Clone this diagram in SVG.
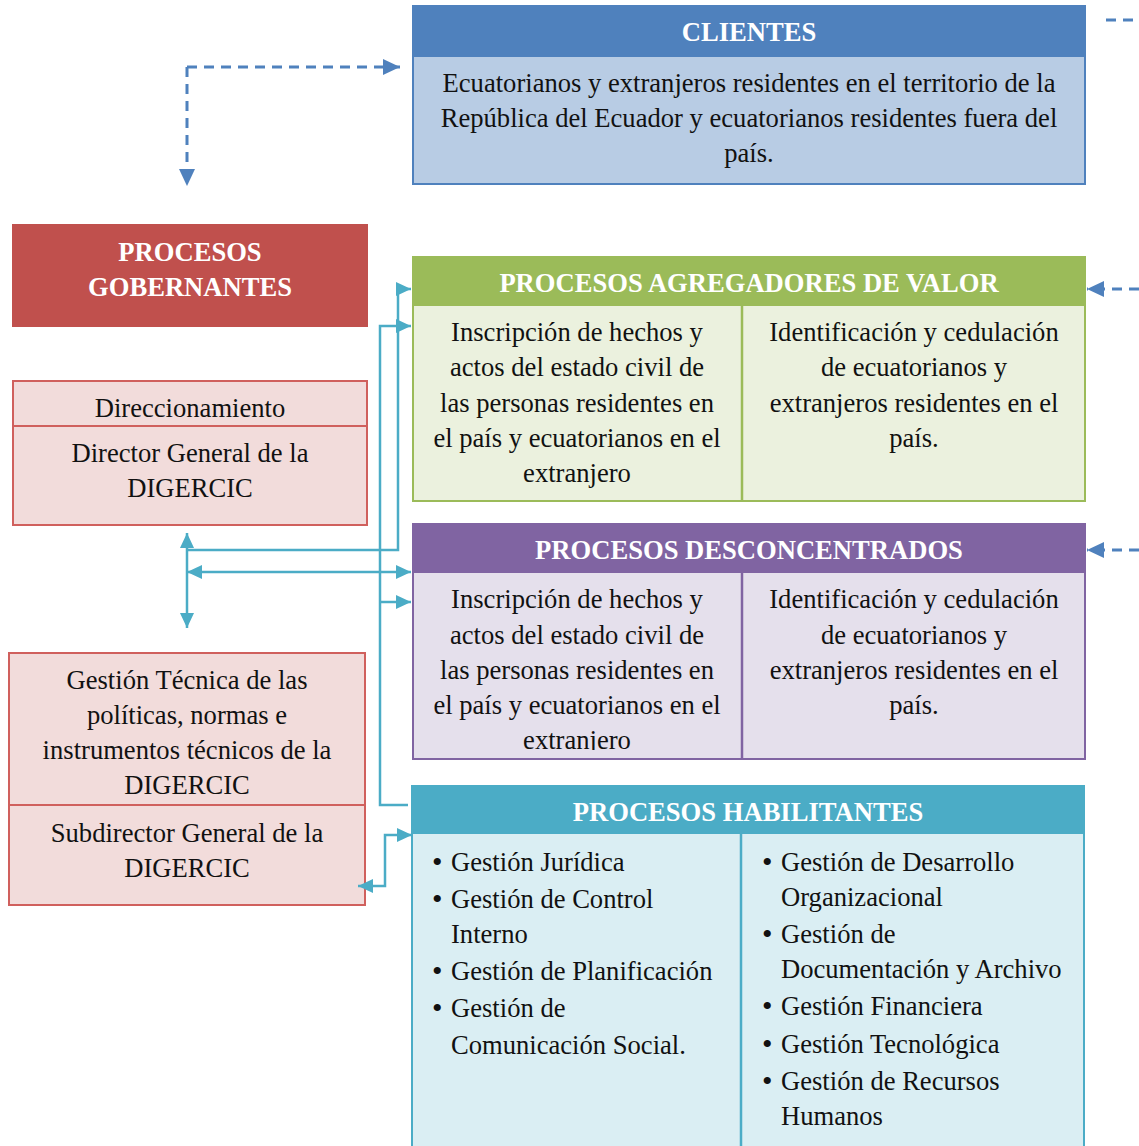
<svg xmlns="http://www.w3.org/2000/svg" width="1139" height="1146" viewBox="0 0 1139 1146">
<defs>
<style>
text{font-family:'Liberation Serif','Times New Roman',Times,'DejaVu Serif',serif;}
.t{font-size:26.6px;fill:#111;}
.b{font-size:30px;fill:#111;}
.c{text-anchor:middle;}
.h{font-size:26.6px;font-weight:bold;fill:#fff;text-anchor:middle;}
.cy{fill:none;stroke:#4bacc6;stroke-width:2.5;}
.bd{fill:none;stroke:#4f81bd;stroke-width:3;stroke-dasharray:10 7;}
</style>
<marker id="ac" markerUnits="userSpaceOnUse" markerWidth="16" markerHeight="16" viewBox="0 0 16 16" refX="15" refY="8" orient="auto-start-reverse"><path d="M0,1 L15,8 L0,15 Z" fill="#4bacc6"/></marker>
<marker id="ab" markerUnits="userSpaceOnUse" markerWidth="18" markerHeight="18" viewBox="0 0 18 18" refX="17" refY="9" orient="auto-start-reverse"><path d="M0,1 L17,9 L0,17 Z" fill="#4f81bd"/></marker>
<clipPath id="cpPurple"><rect x="413" y="573" width="672" height="177"/></clipPath>
</defs>

<g id="clientes">
<rect x="413" y="6" width="672" height="178" fill="#b8cce4" stroke="#4f81bd" stroke-width="2"/>
<rect x="413" y="6" width="672" height="51" fill="#4f81bd"/>
<text class="h" x="749" y="41">CLIENTES</text>
<text class="t c" x="749" y="92">Ecuatorianos y extranjeros residentes en el territorio de la</text>
<text class="t c" x="749" y="127">República del Ecuador y ecuatorianos residentes fuera del</text>
<text class="t c" x="749" y="162">país.</text>
</g>

<g id="gobernantes">
<rect x="12" y="224" width="356" height="103" fill="#c0504d"/>
<text class="h" x="190" y="261">PROCESOS</text>
<text class="h" x="190" y="296">GOBERNANTES</text>
</g>

<g id="direccionamiento">
<rect x="13" y="381" width="354" height="144" fill="#f2dcdb" stroke="#d0605d" stroke-width="2"/>
<line x1="13" y1="426" x2="367" y2="426" stroke="#d0605d" stroke-width="2"/>
<text class="t c" x="190" y="417">Direccionamiento</text>
<text class="t c" x="190" y="462">Director General de la</text>
<text class="t c" x="190" y="497">DIGERCIC</text>
</g>

<g id="gestion-tecnica">
<rect x="9" y="653" width="356" height="252" fill="#f2dcdb" stroke="#d0605d" stroke-width="2"/>
<line x1="9" y1="805" x2="365" y2="805" stroke="#d0605d" stroke-width="2"/>
<text class="t c" x="187" y="689">Gestión Técnica de las</text>
<text class="t c" x="187" y="724">políticas, normas e</text>
<text class="t c" x="187" y="759">instrumentos técnicos de la</text>
<text class="t c" x="187" y="794">DIGERCIC</text>
<text class="t c" x="187" y="842">Subdirector General de la</text>
<text class="t c" x="187" y="877">DIGERCIC</text>
</g>

<g id="agregadores">
<rect x="413" y="257" width="672" height="244" fill="#ebf1de" stroke="#9bbb59" stroke-width="2"/>
<rect x="413" y="257" width="672" height="49" fill="#9bbb59"/>
<line x1="742" y1="306" x2="742" y2="501" stroke="#9bbb59" stroke-width="2.5"/>
<text class="h" x="749" y="292">PROCESOS AGREGADORES DE VALOR</text>
<text class="t c" x="577" y="341">Inscripción de hechos y</text>
<text class="t c" x="577" y="376">actos del estado civil de</text>
<text class="t c" x="577" y="412">las personas residentes en</text>
<text class="t c" x="577" y="447">el país y ecuatorianos en el</text>
<text class="t c" x="577" y="482">extranjero</text>
<text class="t c" x="914" y="341">Identificación y cedulación</text>
<text class="t c" x="914" y="376">de ecuatorianos y</text>
<text class="t c" x="914" y="412">extranjeros residentes en el</text>
<text class="t c" x="914" y="447">país.</text>
</g>

<g id="desconcentrados">
<rect x="413" y="524" width="672" height="235" fill="#e5e0ec" stroke="#8064a2" stroke-width="2"/>
<rect x="413" y="524" width="672" height="49" fill="#8064a2"/>
<line x1="742" y1="573" x2="742" y2="759" stroke="#8064a2" stroke-width="2.5"/>
<text class="h" x="749" y="559">PROCESOS DESCONCENTRADOS</text>
<g clip-path="url(#cpPurple)">
<text class="t c" x="577" y="608">Inscripción de hechos y</text>
<text class="t c" x="577" y="644">actos del estado civil de</text>
<text class="t c" x="577" y="679">las personas residentes en</text>
<text class="t c" x="577" y="714">el país y ecuatorianos en el</text>
<text class="t c" x="577" y="749">extranjero</text>
</g>
<text class="t c" x="914" y="608">Identificación y cedulación</text>
<text class="t c" x="914" y="644">de ecuatorianos y</text>
<text class="t c" x="914" y="679">extranjeros residentes en el</text>
<text class="t c" x="914" y="714">país.</text>
</g>

<g id="habilitantes">
<rect x="412" y="786" width="672" height="370" fill="#daeef3" stroke="#4bacc6" stroke-width="2"/>
<rect x="412" y="786" width="672" height="48" fill="#4bacc6"/>
<line x1="741" y1="834" x2="741" y2="1146" stroke="#4bacc6" stroke-width="2.5"/>
<text class="h" x="748" y="821">PROCESOS HABILITANTES</text>
<text class="b" x="432" y="872">•</text><text class="t" x="451" y="871">Gestión Jurídica</text>
<text class="b" x="432" y="909">•</text><text class="t" x="451" y="908">Gestión de Control</text>
<text class="t" x="451" y="943">Interno</text>
<text class="b" x="432" y="981">•</text><text class="t" x="451" y="980">Gestión de Planificación</text>
<text class="b" x="432" y="1018">•</text><text class="t" x="451" y="1017">Gestión de</text>
<text class="t" x="451" y="1054">Comunicación Social.</text>
<text class="b" x="762" y="872">•</text><text class="t" x="781" y="871">Gestión de Desarrollo</text>
<text class="t" x="781" y="906">Organizacional</text>
<text class="b" x="762" y="944">•</text><text class="t" x="781" y="943">Gestión de</text>
<text class="t" x="781" y="978">Documentación y Archivo</text>
<text class="b" x="762" y="1016">•</text><text class="t" x="781" y="1015">Gestión Financiera</text>
<text class="b" x="762" y="1054">•</text><text class="t" x="781" y="1053">Gestión Tecnológica</text>
<text class="b" x="762" y="1091">•</text><text class="t" x="781" y="1090">Gestión de Recursos</text>
<text class="t" x="781" y="1125">Humanos</text>
</g>

<g id="connectors">
<path class="bd" d="M187,67 H400" marker-end="url(#ab)"/>
<path class="bd" d="M187,67 V186" marker-end="url(#ab)"/>
<path class="bd" d="M1106,20 H1139"/>
<path class="bd" d="M1139,289 H1087" marker-end="url(#ab)"/>
<path class="bd" d="M1139,550 H1087" marker-end="url(#ab)"/>
<path class="cy" d="M188,550 H398 V289 H411" marker-end="url(#ac)"/>
<path class="cy" d="M408,805 H380 V326 H411" marker-end="url(#ac)"/>
<path class="cy" d="M380,602 H411" marker-end="url(#ac)"/>
<path class="cy" d="M187,533 V628" marker-start="url(#ac)" marker-end="url(#ac)"/>
<path class="cy" d="M187,572 H411" marker-start="url(#ac)" marker-end="url(#ac)"/>
<path class="cy" d="M358,886 H385 V835 H412" marker-start="url(#ac)" marker-end="url(#ac)"/>
</g>
</svg>
